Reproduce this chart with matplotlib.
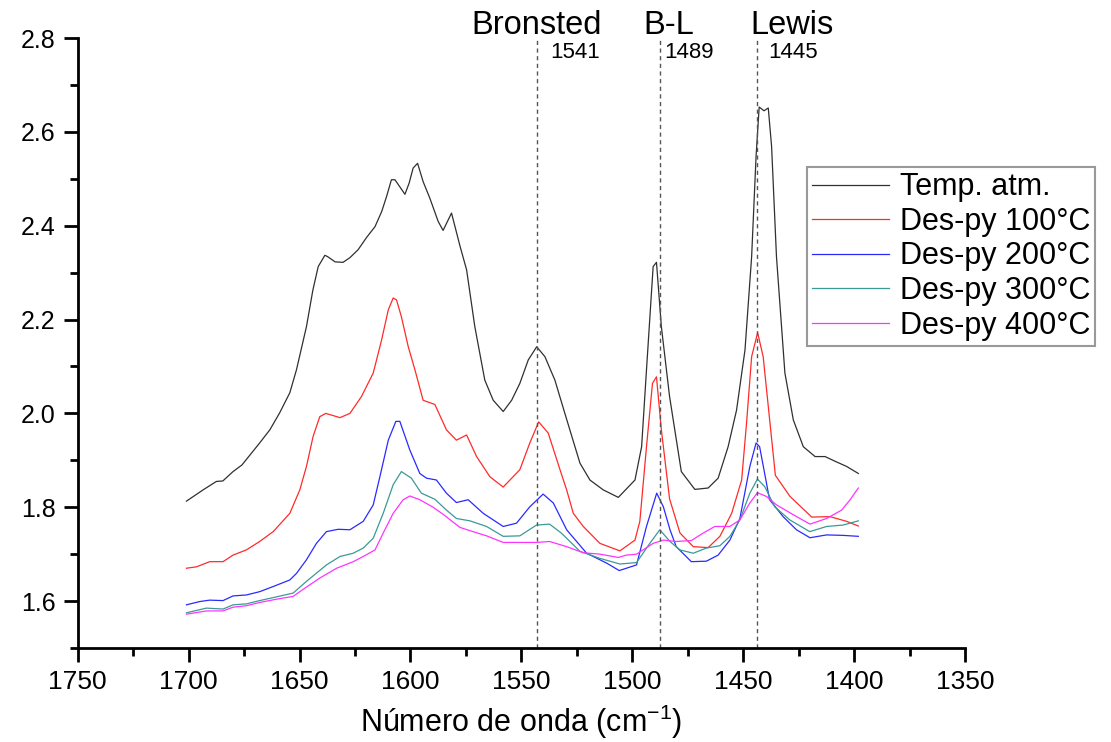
import matplotlib
matplotlib.use('Agg')
import matplotlib.pyplot as plt
from matplotlib.ticker import MultipleLocator, FormatStrFormatter

plt.rcParams['font.family'] = ['Liberation Sans', 'DejaVu Sans']
plt.rcParams['mathtext.fontset'] = 'custom'
plt.rcParams['mathtext.rm'] = 'Liberation Sans'

# Temp. atm.
x_atm = [1701, 1693.5, 1687.5, 1684.6, 1680, 1676, 1668, 1663.4, 1659, 1654.4, 1651.4, 1646.9, 1644,
         1641.6, 1638.6, 1637.3, 1634, 1630.4, 1627.3, 1623.6, 1619.8, 1616, 1613, 1610.8, 1608.6, 1607,
         1602.5, 1600.6, 1598.8, 1596.8, 1594.3, 1591.3, 1587.5, 1585.3, 1581.5, 1577.7, 1574.7, 1571,
         1566.5, 1562.7, 1558.2, 1554.4, 1550.7, 1546.9, 1543.1, 1539.4, 1534.9, 1530.4, 1523.6, 1519.1,
         1513.1, 1506.3, 1498.8, 1495.8, 1493.6, 1490.6, 1489.1, 1486.9, 1483.2, 1477.9, 1471.8, 1465.8,
         1461.3, 1456.8, 1453, 1449.2, 1446.2, 1444.2, 1442.8, 1440.6, 1438.7, 1437.2, 1435, 1431.2,
         1427.4, 1422.9, 1417.6, 1413.1, 1408.6, 1403.4, 1398.1]
y_atm = [1.813, 1.837, 1.855, 1.856, 1.876, 1.890, 1.937, 1.965, 2.001, 2.044, 2.093, 2.185, 2.263,
         2.313, 2.337, 2.334, 2.323, 2.322, 2.332, 2.349, 2.375, 2.398, 2.430, 2.462, 2.498, 2.498,
         2.467, 2.491, 2.523, 2.533, 2.494, 2.459, 2.409, 2.390, 2.427, 2.357, 2.306, 2.185,
         2.071, 2.028, 2.004, 2.028, 2.064, 2.114, 2.142, 2.121, 2.071, 2.000, 1.894, 1.858,
         1.837, 1.821, 1.858, 1.929, 2.093, 2.313, 2.322, 2.185, 2.036, 1.876, 1.838, 1.841,
         1.862, 1.929, 2.007, 2.135, 2.334, 2.548, 2.653, 2.645, 2.651, 2.569, 2.334, 2.086,
         1.986, 1.929, 1.908, 1.908, 1.898, 1.887, 1.872]

# Des-py 100°C
x_100 = [1701, 1696.5, 1690.5, 1684.5, 1680, 1674, 1668, 1661.9, 1654.4, 1649.9, 1646.9, 1643.9, 1640.9,
         1638.2, 1631.8, 1627.3, 1622.1, 1616.8, 1613, 1610, 1607.8, 1606.3, 1604.1, 1601, 1598, 1594.3,
         1589, 1583.8, 1579.3, 1574.7, 1570.2, 1564.2, 1558.2, 1550.7, 1546.2, 1542.2, 1537.9, 1532.6,
         1529.6, 1526.6, 1522.1, 1514.6, 1505.6, 1498.8, 1496.6, 1493.6, 1490.9, 1489.1, 1486.9, 1483.2,
         1478.5, 1472.5, 1465.8, 1460.5, 1455.2, 1450.7, 1448.5, 1446.2, 1443.5, 1441, 1435.5, 1428.9,
         1419.1, 1410.9, 1403.4, 1398.1]
y_100 = [1.670, 1.673, 1.684, 1.684, 1.698, 1.709, 1.727, 1.748, 1.787, 1.837, 1.887, 1.951, 1.993,
         2.000, 1.991, 2.000, 2.036, 2.086, 2.157, 2.221, 2.246, 2.242, 2.206, 2.142, 2.093, 2.028,
         2.019, 1.965, 1.943, 1.954, 1.908, 1.865, 1.843, 1.880, 1.937, 1.982, 1.958, 1.880,
         1.837, 1.787, 1.759, 1.723, 1.707, 1.730, 1.770, 1.929, 2.064, 2.078, 1.965, 1.818,
         1.745, 1.716, 1.714, 1.738, 1.787, 1.858, 1.979, 2.121, 2.172, 2.121, 1.868, 1.823,
         1.779, 1.780, 1.770, 1.760]

# Des-py 200°C
x_200 = [1701, 1695, 1690.5, 1684.5, 1680, 1674, 1668, 1661.9, 1654.4, 1651.4, 1646.9, 1642.4, 1637.9,
         1632.6, 1627.3, 1621.3, 1616.8, 1613.8, 1610, 1606.6, 1604.8, 1600.3, 1595.8, 1592.8, 1588.3,
         1583.8, 1579.3, 1574, 1567.2, 1558.2, 1552.2, 1546.2, 1540.2, 1535.6, 1529.6, 1520.6, 1511.6,
         1505.9, 1498.1, 1493.6, 1489, 1486, 1483, 1480.2, 1473.4, 1466.6, 1461.3, 1456, 1451.5, 1447,
         1444.2, 1442.6, 1438.1, 1432, 1426, 1419.9, 1412.4, 1404.9, 1398.1]
y_200 = [1.592, 1.599, 1.602, 1.601, 1.611, 1.613, 1.620, 1.631, 1.645, 1.659, 1.688, 1.723, 1.748,
         1.753, 1.752, 1.770, 1.805, 1.865, 1.943, 1.983, 1.983, 1.922, 1.872, 1.862, 1.858,
         1.830, 1.810, 1.816, 1.787, 1.759, 1.766, 1.801, 1.828, 1.809, 1.752, 1.702, 1.681,
         1.665, 1.677, 1.759, 1.830, 1.801, 1.752, 1.716, 1.684, 1.685, 1.698, 1.730, 1.776, 1.887,
         1.937, 1.929, 1.816, 1.780, 1.752, 1.735, 1.741, 1.740, 1.738]

# Des-py 300°C
x_300 = [1701, 1692, 1684.5, 1680, 1674, 1668, 1660.4, 1652.9, 1646.9, 1637.9, 1631.8, 1625.8, 1621.3,
         1616.8, 1612.3, 1607.8, 1604.1, 1599.6, 1595.1, 1589, 1583.8, 1579.3, 1573.2, 1565.7, 1558.2,
         1550.7, 1543.2, 1537.3, 1532, 1523.6, 1514.6, 1505.6, 1498.1, 1492.1, 1487.6, 1483, 1478.5,
         1472.5, 1466.6, 1460.5, 1456, 1451.5, 1447, 1443.6, 1440.3, 1435.8, 1429, 1420, 1412.4, 1405,
         1398.1]
y_300 = [1.575, 1.585, 1.583, 1.592, 1.594, 1.601, 1.609, 1.617, 1.642, 1.677, 1.695, 1.702, 1.713,
         1.734, 1.787, 1.848, 1.876, 1.862, 1.830, 1.817, 1.794, 1.776, 1.771, 1.759, 1.738,
         1.739, 1.762, 1.764, 1.745, 1.706, 1.691, 1.679, 1.682, 1.723, 1.752, 1.727, 1.709,
         1.702, 1.713, 1.718, 1.738, 1.773, 1.830, 1.860, 1.844, 1.801, 1.773, 1.748, 1.759, 1.762,
         1.771]

# Des-py 400°C
x_400 = [1701, 1692, 1684.5, 1680, 1674, 1668, 1660.4, 1652.9, 1648.4, 1640.9, 1633.3, 1625.8, 1621.3,
         1616, 1612.3, 1607.8, 1603.3, 1600.3, 1595.8, 1589.8, 1585.3, 1577.7, 1573.2, 1565.7, 1558.2,
         1550.7, 1543.2, 1537.3, 1529.6, 1522.1, 1514.6, 1506.3, 1502.6, 1498.1, 1490.6, 1486, 1480.2,
         1473.4, 1468, 1462.8, 1456, 1451.5, 1447, 1443.6, 1439.5, 1435, 1427.4, 1419.9, 1412.4, 1405.6,
         1401.8, 1398.1]
y_400 = [1.572, 1.579, 1.579, 1.587, 1.590, 1.597, 1.604, 1.610, 1.625, 1.649, 1.670, 1.684, 1.695,
         1.709, 1.745, 1.787, 1.816, 1.824, 1.816, 1.800, 1.785, 1.757, 1.750, 1.739, 1.725,
         1.725, 1.725, 1.727, 1.716, 1.703, 1.700, 1.693, 1.698, 1.700, 1.723, 1.730, 1.727,
         1.729, 1.745, 1.759, 1.759, 1.773, 1.809, 1.831, 1.823, 1.805, 1.784, 1.764, 1.776, 1.794,
         1.816, 1.841]

series = [
    ('Temp. atm.', x_atm, y_atm, '#303030'),
    ('Des-py 100°C', x_100, y_100, '#ff2a2a'),
    ('Des-py 200°C', x_200, y_200, '#2a2aff'),
    ('Des-py 300°C', x_300, y_300, '#3a9a96'),
    ('Des-py 400°C', x_400, y_400, '#ff33ff'),
]

# bandas marcadas
band_names = ['Bronsted', 'B-L', 'Lewis']
band_pos = [1542.8, 1487.5, 1444]
band_labels = ['1541', '1489', '1445']

fig = plt.figure(figsize=(11.11, 7.42), dpi=100)
ax = fig.add_axes([0.070, 0.1267, 0.7986, 0.822])

for name, xs, ys, c in series:
    ax.plot(xs, ys, color=c, linewidth=0.9, label=name)

for p in band_pos:
    ax.axvline(p, color='#555555', linestyle=(0, (3, 2.5)), linewidth=1.0)

name_x = [1543, 1483.5, 1428]
for nm, nx in zip(band_names, name_x):
    ax.text(nx, 2.809, nm, ha='center', va='baseline', fontsize=23.5, clip_on=False)
num_x = [1537, 1485.7, 1438.8]
for lb, lx in zip(band_labels, num_x):
    ax.text(lx, 2.758, lb, ha='left', va='baseline', fontsize=16, clip_on=False)

ax.set_xlim(1750, 1350)
ax.set_ylim(1.5, 2.8)
ax.xaxis.set_major_locator(MultipleLocator(50))
ax.xaxis.set_minor_locator(MultipleLocator(25))
ax.yaxis.set_major_locator(MultipleLocator(0.2))
ax.yaxis.set_minor_locator(MultipleLocator(0.1))
ax.yaxis.set_major_formatter(FormatStrFormatter('%.1f'))

for s in ['top', 'right']:
    ax.spines[s].set_visible(False)
for s in ['left', 'bottom']:
    ax.spines[s].set_linewidth(2)

ax.tick_params(which='major', direction='out', length=10, width=2)
ax.tick_params(which='minor', direction='out', length=6, width=2)
ax.tick_params(axis='x', labelsize=19, pad=6)
ax.tick_params(axis='y', labelsize=18, pad=6)

ax.set_xlabel('Número de onda (cm$^{-1}$)', fontsize=22, labelpad=6)

leg = ax.legend(loc='upper left', bbox_to_anchor=(807 / 1111, 1 - 167 / 742), bbox_transform=fig.transFigure,
                fontsize=22, frameon=True, fancybox=False, borderpad=0.17, labelspacing=0.15,
                handlelength=2.5, handletextpad=0.36, borderaxespad=0)
leg.get_frame().set_edgecolor('#808080')
leg.get_frame().set_linewidth(1.5)

fig.savefig('out.png', dpi=100)
